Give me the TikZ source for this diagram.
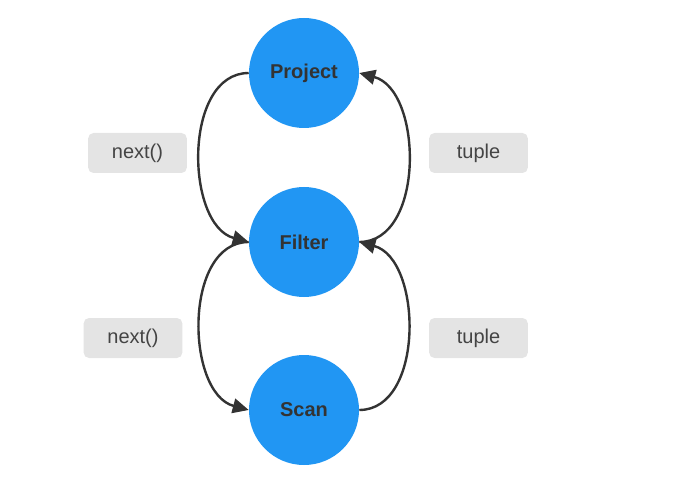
\documentclass[tikz,border=0pt]{standalone}
\usepackage{fontspec}
\setmainfont{Liberation Sans}
\usetikzlibrary{arrows.meta}
\definecolor{opblue}{RGB}{33,150,243}
\definecolor{tagfill}{RGB}{228,228,228}
\definecolor{inkgray}{RGB}{51,51,51}
\definecolor{tagtext}{RGB}{68,68,68}
\tikzset{
	op/.style={circle, fill=opblue, inner sep=0pt, minimum size=82.5pt,
		text=inkgray, font=\fontsize{15}{18}\selectfont\bfseries},
	tag/.style={fill=tagfill, rounded corners=4pt, minimum width=74pt,
		minimum height=30pt, text=tagtext, font=\fontsize{15}{18}\selectfont},
	flow/.style={draw=inkgray, line width=1.8pt, looseness=1,
		-{Triangle[length=12pt,width=11pt]}}
}
\begin{document}
\begin{tikzpicture}[x=0.75pt,y=-0.75pt]
			\useasboundingbox (0,0) rectangle (691,491);
			\node[op] (project) at (304,73) {Project};
			\node[op] (filter) at (304,242) {Filter};
			\node[op] (scan) at (304,410) {Scan};
			\node[tag] (next1) at (137.5,153) {next()};
			\node[tag] (next2) at (133,338) {next()};
			\node[tag] (tuple1) at (478.5,153) {tuple};
			\node[tag] (tuple2) at (478.5,338) {tuple};
			% calls go down on the left
			\draw[flow] (project.west) to[out=180,in=165] (filter.west);
			\draw[flow] (filter.west) to[out=180,in=165] (scan.west);
			% tuples come back up on the right
			\draw[flow] (scan.east) to[out=0,in=-15] (filter.east);
			\draw[flow] (filter.east) to[out=0,in=-15] (project.east);
\end{tikzpicture}
\end{document}
